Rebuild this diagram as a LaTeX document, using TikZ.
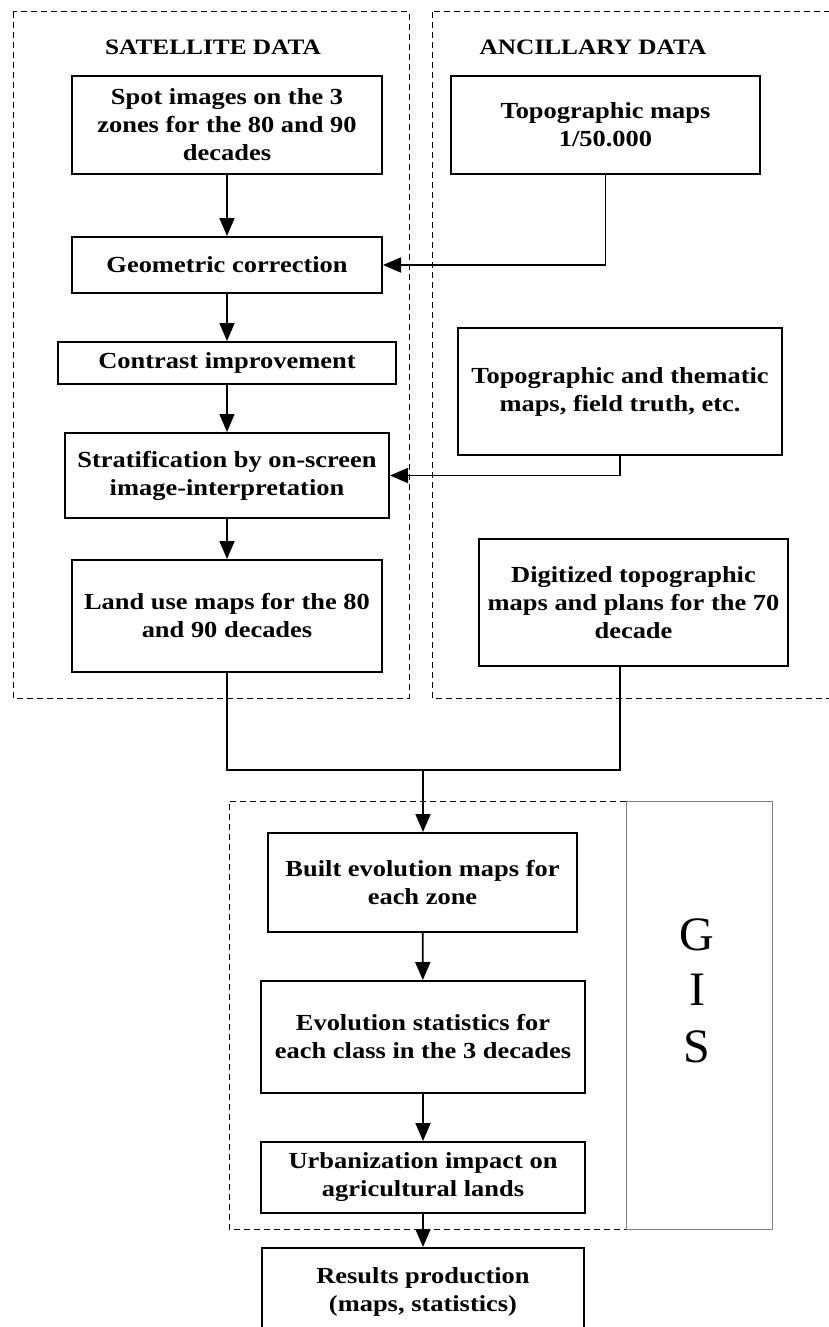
\documentclass[tikz,border=0pt]{standalone}
\usepackage{fontspec}
\setmainfont[FakeStretch=1.15]{Liberation Serif}
\newfontfamily\gisfont{Liberation Serif}
\usetikzlibrary{arrows.meta,positioning}
\tikzset{
  procbox/.style={draw=black, line width=2pt, inner sep=0pt, align=center,
    font=\fontsize{23}{28}\selectfont\bfseries},
  arr/.style={line width=1.8pt, -{Triangle[length=18pt,width=15pt]}},
  link/.style={line width=1.8pt},
  grp/.style={draw=black, line width=1pt, dash pattern=on 6pt off 4pt},
  ttl/.style={font=\fontsize{22}{26}\selectfont\bfseries},
  gisletter/.style={font=\gisfont\fontsize{48}{50}\selectfont}
}
\begin{document}
\begin{tikzpicture}[x=1pt,y=-1pt]
\useasboundingbox (0,0) rectangle (829,1327);
% group frames
\draw[grp] (13,12) rectangle (409,698);
\draw[grp] (432,12) rectangle (845,698);
\draw[grp] (626,801) -- (229,801) -- (229,1229) -- (626,1229);
\draw[draw=gray, line width=0.9pt] (626,801) rectangle (772,1229);
% titles
\node[ttl] (tsat) at (213,47) {SATELLITE DATA};
\node[ttl] (tanc) at (593,47) {ANCILLARY DATA};
% left column
\node[procbox, minimum width=310pt, minimum height=98pt] (spot) at (227,125) {Spot images on the 3\\zones for the 80 and 90\\decades};
\node[procbox, minimum width=310pt, minimum height=56pt] (geo) at (227,265) {Geometric correction};
\node[procbox, minimum width=338pt, minimum height=42pt] (contrast) at (227,363) {Contrast improvement};
\node[procbox, minimum width=324pt, minimum height=85pt] (strat) at (227,475.5) {Stratification by on-screen\\image-interpretation};
\node[procbox, minimum width=310pt, minimum height=112pt] (landuse) at (227,616) {Land use maps for the 80\\and 90 decades};
% right column
\node[procbox, minimum width=309pt, minimum height=98pt] (topo) at (605.5,125) {Topographic maps\\1/50.000};
\node[procbox, minimum width=324pt, minimum height=127pt] (thematic) at (620,391.5) {Topographic and thematic\\maps, field truth, etc.};
\node[procbox, minimum width=309pt, minimum height=127pt] (digit) at (633.5,602.5) {Digitized topographic\\maps and plans for the 70\\decade};
% GIS column
\node[procbox, minimum width=309pt, minimum height=99pt] (built) at (422.5,882.5) {Built evolution maps for\\each zone};
\node[procbox, minimum width=324pt, minimum height=112pt] (evol) at (423,1037) {Evolution statistics for\\each class in the 3 decades};
\node[procbox, minimum width=324pt, minimum height=71pt] (urban) at (423,1177.5) {Urbanization impact on\\agricultural lands};
\node[procbox, minimum width=322pt, minimum height=100pt] (results) at (423,1298) {};
\node[align=center, font=\fontsize{23}{28}\selectfont\bfseries] (restext) at (423,1292) {Results production\\(maps, statistics)};
% GIS letters
\node[gisletter] (g) at (697,935) {G};
\node[gisletter] (i) at (697,990) {I};
\node[gisletter] (s) at (697,1047) {S};
% connectors
\coordinate (m1) at (227,770);
\coordinate (m2) at (620,770);
\coordinate (m3) at (423,770);
\draw[arr] (spot) -- (geo);
\draw[arr] (topo.south) |- (geo.east);
\draw[arr] (geo) -- (contrast);
\draw[arr] (contrast) -- (strat);
\draw[arr] (thematic.south) |- (strat.east);
\draw[arr] (strat) -- (landuse);
\draw[link] (landuse.south) -- (m1) -- (m2) -- (digit.south -| m2);
\draw[arr] (m3) -- (built.north -| m3);
\draw[arr] (built) -- (evol);
\draw[arr] (evol) -- (urban);
\draw[arr] (urban) -- (results);
\end{tikzpicture}
\end{document}
